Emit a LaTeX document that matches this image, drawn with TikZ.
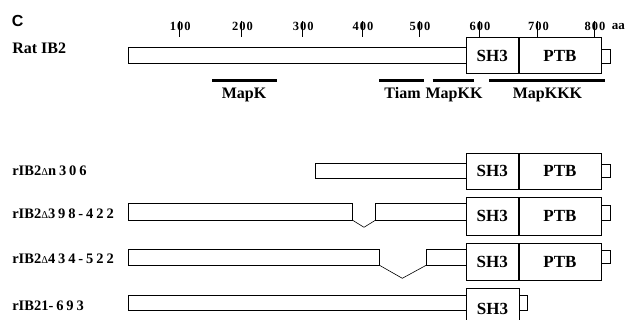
\documentclass[tikz,border=0pt]{standalone}
\usepackage{fontspec}
\setmainfont{Liberation Serif}
\setsansfont{Liberation Sans}
\newfontfamily\spacedfont[LetterSpace=20]{Liberation Serif}
\newfontfamily\tickfont[LetterSpace=8]{Liberation Serif}
\newcommand\smalldelta{{\mdseries\fontsize{10.5}{10}\selectfont Δ}}
\newcommand\spc[1]{{\spacedfont #1}}

\begin{document}
\begin{tikzpicture}[x=1pt,y=-1pt,line width=.6pt,
  bar/.style={draw,fill=white},
  dom/.style={draw,fill=white,inner sep=0pt,minimum height=36pt,
              font=\fontsize{17}{17}\selectfont\bfseries},
  site/.style={line width=3.2pt},
  tickno/.style={font=\fontsize{12.5}{13}\tickfont\bfseries,inner sep=0pt},
  rowname/.style={anchor=base west,inner sep=0pt,font=\fontsize{14.5}{16}\selectfont\bfseries},
  sitename/.style={anchor=base,inner sep=0pt,font=\fontsize{16}{16}\selectfont\bfseries}]
  \clip (0,0) rectangle (629,320);
  \node[anchor=base west,inner sep=0pt,font=\fontsize{16}{16}\sffamily\bfseries] (panel) at (11.5,26.7) {C};
  % scale
  \foreach \n/\x in {100/179.5,200/241.7,300/302.5,400/362.3,500/419.3,600/479.3,700/537.7,800/594.3}{
    \node[tickno] (t\n) at (\x+.8,26) {\n};
    \draw (\x,21.5) -- (\x,37.3);
  }
  \node[anchor=base west,inner sep=0pt,font=\fontsize{13}{13}\selectfont\bfseries] (aa) at (611.5,30) {aa};
  % full length protein
  \node[rowname,font=\fontsize{16}{16}\selectfont\bfseries] (rat) at (12,53.5) {Rat IB2};
  \draw[bar] (128,47.7) rectangle (466,63.7);
  \draw[bar] (599,49.3) rectangle (610.5,63.7);
  \node[dom,minimum width=52pt,anchor=north west] (sh3) at (466,37.3) {SH3};
  \node[dom,minimum width=82pt,anchor=west] (ptb) at (sh3.east) {PTB};
  % binding regions
  \draw[site] (212,80.7) -- (276.7,80.7);
  \draw[site] (379.3,80.7) -- (424,80.7);
  \draw[site] (432.7,80.7) -- (474,80.7);
  \draw[site] (489.3,80.7) -- (605,80.7);
  \node[sitename] (mapk) at (244,99) {MapK};
  \node[sitename] (tiam) at (402.5,99) {Tiam};
  \node[sitename] (mapkk) at (454,99) {MapKK};
  \node[sitename] (mapkkk) at (547.5,99) {MapKKK};
  % deletion mutants
  \node[rowname] (dn) at (12,176) {rIB2\smalldelta\spc{n306}};
  \draw[bar] (315,163) rectangle (466,178);
  \draw[bar] (600,164) rectangle (610.5,177.3);
  \node[dom,minimum width=52pt,anchor=north west] (sh3a) at (466,152.7) {SH3};
  \node[dom,minimum width=82pt,anchor=west] (ptba) at (sh3a.east) {PTB};

  \node[rowname] (da) at (12,219) {rIB2\smalldelta\spc{398-422}};
  \draw[bar] (128,203.3) rectangle (352.7,220.3);
  \draw[bar] (375.3,203.3) rectangle (466,220.3);
  \draw (352.7,220.3) -- (364,227.3) -- (375.3,220.3);
  \draw[bar] (600,205) rectangle (610.5,220);
  \node[dom,minimum width=52pt,minimum height=37.5pt,anchor=north west] (sh3b) at (466,197.3) {SH3};
  \node[dom,minimum width=82pt,minimum height=37.5pt,anchor=west] (ptbb) at (sh3b.east) {PTB};

  \node[rowname] (db) at (12,264) {rIB2\smalldelta\spc{434-522}};
  \draw[bar] (128,249.3) rectangle (379,265);
  \draw[bar] (426.7,249.3) rectangle (466,265);
  \draw (379,265) -- (402.3,278.3) -- (426.7,265);
  \draw[bar] (600,250) rectangle (610.5,263.3);
  \node[dom,minimum width=52pt,minimum height=37.3pt,anchor=north west] (sh3c) at (466,242.7) {SH3};
  \node[dom,minimum width=82pt,minimum height=37.3pt,anchor=west] (ptbc) at (sh3c.east) {PTB};

  \node[rowname] (dc) at (12,310.5) {rIB21\spc{-693}};
  \draw[bar] (128,295) rectangle (466,310);
  \draw[bar] (519,295) rectangle (527,310.5);
  \node[dom,minimum width=53pt,minimum height=40pt,anchor=north west] (sh3d) at (466,288.3) {};
  \node[sitename,font=\fontsize{17}{17}\selectfont\bfseries] (sh3dtext) at (492.5,314) {SH3};
\end{tikzpicture}
\end{document}
